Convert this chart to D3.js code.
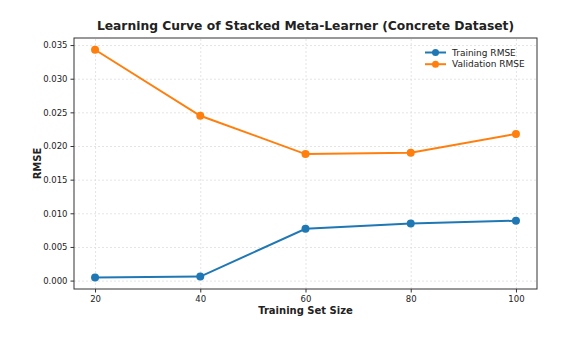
<!DOCTYPE html>
<html lang="en">
<head>
  <meta charset="utf-8">
  <title>Learning Curve</title>
  <script src="https://cdn.jsdelivr.net/npm/d3@7"></script>
  <style>
    body { margin: 0; background: #fff; }
    text { font-family: "DejaVu Sans", sans-serif; fill: #222; }
    .grid line { stroke: #ddd; stroke-dasharray: 2,2; stroke-width: 0.8; }
    .grid path { display: none; }
  </style>
</head>
<body>
<script>
  // data
  var sizes = [20, 40, 60, 80, 100];
  var trainRmse = [0.00045, 0.0006, 0.0077, 0.0085, 0.0089];
  var valRmse = [0.0343, 0.0245, 0.0188, 0.019, 0.0218];
  var yTicks = [0, 0.005, 0.01, 0.015, 0.02, 0.025, 0.03, 0.035];
  var seriesNames = ["Training RMSE", "Validation RMSE"];
  var colors = ["#1f77b4", "#ff7f0e"];

  var width = 580, height = 340;
  var margin = {top: 38, right: 43, bottom: 51, left: 74};
  var w = width - margin.left - margin.right;
  var h = height - margin.top - margin.bottom;

  var svg = d3.select("body").append("svg")
    .attr("width", width)
    .attr("height", height);

  var g = svg.append("g")
    .attr("transform", "translate(" + margin.left + "," + margin.top + ")");

  var x = d3.scaleLinear().domain([16, 104]).range([0, w]);
  var y = d3.scaleLinear().domain([-0.00125, 0.03605]).range([h, 0]);

  // grid
  g.append("g").attr("class", "grid")
    .attr("transform", "translate(0," + h + ")")
    .call(d3.axisBottom(x).tickValues(sizes).tickSize(-h).tickFormat(""));
  g.append("g").attr("class", "grid")
    .call(d3.axisLeft(y).tickValues(yTicks).tickSize(-w).tickFormat(""));

  // axes
  var xAxis = g.append("g")
    .attr("transform", "translate(0," + h + ")")
    .call(d3.axisBottom(x).tickValues(sizes).tickSize(3.5).tickPadding(3));
  var yAxis = g.append("g")
    .call(d3.axisLeft(y).tickValues(yTicks).tickFormat(d3.format(".3f")).tickSize(3.5).tickPadding(3));
  [xAxis, yAxis].forEach(function(a) {
    a.selectAll("text").style("font-size", "8.5px").style("fill", "#222");
    a.selectAll("line").style("stroke", "#333");
    a.select(".domain").remove();
  });

  // frame
  g.append("rect")
    .attr("width", w).attr("height", h)
    .attr("fill", "none").attr("stroke", "#333").attr("stroke-width", 1);

  var series = [trainRmse, valRmse];
  var line = d3.line()
    .x(function(d, i) { return x(sizes[i]); })
    .y(function(d) { return y(d); });

  series.forEach(function(s, k) {
    g.append("path")
      .datum(s)
      .attr("fill", "none")
      .attr("stroke", colors[k])
      .attr("stroke-width", 2)
      .attr("d", line);
    g.selectAll(".pt" + k)
      .data(s)
      .enter().append("circle")
      .attr("cx", function(d, i) { return x(sizes[i]); })
      .attr("cy", function(d) { return y(d); })
      .attr("r", 4)
      .attr("fill", colors[k]);
  });

  // legend
  var legend = g.append("g").attr("transform", "translate(" + (w - 112) + ",14.5)");
  seriesNames.forEach(function(name, k) {
    var row = legend.append("g").attr("transform", "translate(0," + (k * 11.7) + ")");
    row.append("line").attr("x1", 0).attr("x2", 21).attr("y1", 0).attr("y2", 0)
      .attr("stroke", colors[k]).attr("stroke-width", 2);
    row.append("circle").attr("cx", 10.5).attr("cy", 0).attr("r", 3.5).attr("fill", colors[k]);
    row.append("text").attr("x", 27).attr("y", 0).attr("dy", "0.35em")
      .style("font-size", "9px").text(name);
  });

  // titles
  svg.append("text")
    .attr("x", margin.left + w / 2).attr("y", 30)
    .attr("text-anchor", "middle")
    .style("font-size", "12.3px").style("font-weight", "bold")
    .text("Learning Curve of Stacked Meta-Learner (Concrete Dataset)");
  svg.append("text")
    .attr("x", margin.left + w / 2).attr("y", 314)
    .attr("text-anchor", "middle")
    .style("font-size", "10px").style("font-weight", "bold")
    .text("Training Set Size");
  svg.append("text")
    .attr("transform", "translate(41," + (margin.top + h / 2) + ") rotate(-90)")
    .attr("text-anchor", "middle")
    .style("font-size", "10px").style("font-weight", "bold")
    .text("RMSE");
</script>
</body>
</html>
